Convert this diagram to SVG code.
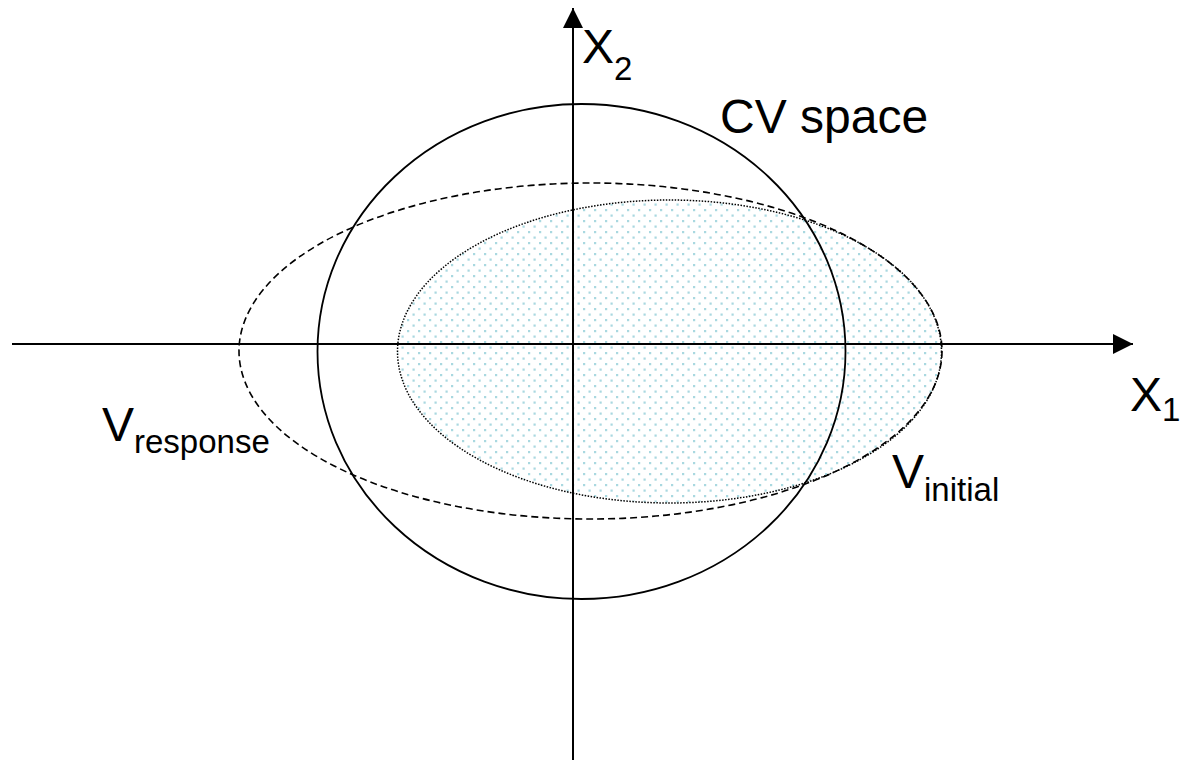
<svg xmlns="http://www.w3.org/2000/svg" width="1182" height="760" viewBox="0 0 1182 760">
<style>
.lbl{font-family:"Liberation Sans",Arial,sans-serif;fill:#000;font-size:48px}
.sub{font-size:33px}
.axis{stroke:#000;stroke-width:2;fill:none}
</style>
<defs>
<pattern id="dots" width="11" height="11" patternUnits="userSpaceOnUse">
<rect width="11" height="11" fill="#fff"/>
<rect x="0" y="0" width="2.2" height="2.2" fill="#a9d8e0"/>
<rect x="5.5" y="5.5" width="2.2" height="2.2" fill="#a9d8e0"/>
</pattern>
<marker id="arr" markerWidth="20" markerHeight="20" refX="20" refY="10" orient="auto" markerUnits="userSpaceOnUse">
<path d="M0,0 L20,10 L0,20 Z" fill="#000"/>
</marker>
</defs>
<g id="initial-region">
<ellipse cx="669.5" cy="351.5" rx="272" ry="151.5" fill="url(#dots)" stroke="#000" stroke-width="1.5" stroke-dasharray="1.5 1.5"/>
</g>
<g id="response-region">
<ellipse cx="590.5" cy="351" rx="351.5" ry="168" fill="none" stroke="#000" stroke-width="1.6" stroke-dasharray="7 4"/>
</g>
<g id="cv-space">
<ellipse cx="581.5" cy="351.5" rx="264" ry="247.5" fill="none" stroke="#000" stroke-width="1.8"/>
</g>
<g id="connectors">
<line class="axis" x1="12" y1="344" x2="1133" y2="344" marker-end="url(#arr)"/>
<line class="axis" x1="573" y1="760" x2="573" y2="8" marker-end="url(#arr)"/>
</g>
<g id="labels">
<text class="lbl" x="582" y="63">X<tspan class="sub" dy="17">2</tspan></text>
<text class="lbl" x="720" y="133">CV space</text>
<text class="lbl" x="1130" y="411">X<tspan class="sub" dy="10">1</tspan></text>
<text class="lbl" x="102" y="441">V<tspan class="sub" dy="12">response</tspan></text>
<text class="lbl" x="892" y="488">V<tspan class="sub" dy="13">initial</tspan></text>
</g>
</svg>
